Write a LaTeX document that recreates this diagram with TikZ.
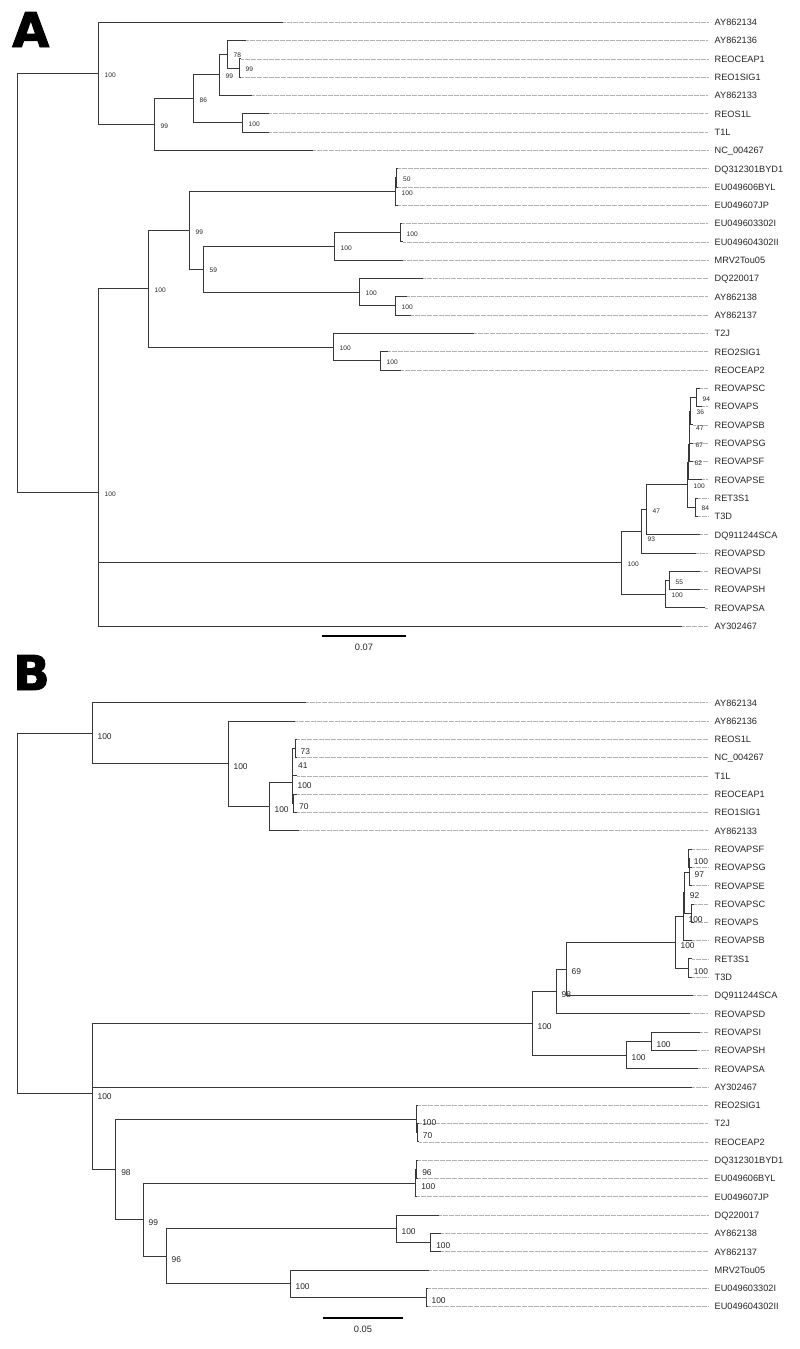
\documentclass[tikz,border=0pt]{standalone}
\usepackage{fontspec}
\usepackage{tikz}
\newfontfamily\labfont{Liberation Sans}
\newfontfamily\panelfont{DejaVu Sans}[BoldFeatures={FakeBold=2}]

\begin{document}
\begin{tikzpicture}[x=1pt,y=-1pt,
	br/.style={draw=black!78, line width=0.95pt},
	lead/.style={draw=black!30, line width=0.8pt, dash pattern=on 0.7pt off 0.5pt},
	lab/.style={anchor=west, inner xsep=6.5pt, inner ysep=0pt, text height=6.6pt, text depth=0pt, font=\labfont\fontsize{9.2}{10}\selectfont, text=black!85},
	bsa/.style={anchor=west, inner sep=0pt, text height=4.7pt, text depth=0pt, xshift=6.5pt, yshift=-1.2pt, font=\labfont\fontsize{6.6}{7}\selectfont, text=black!85},
	bsb/.style={anchor=west, inner sep=0pt, text height=6pt, text depth=0pt, xshift=5.4pt, yshift=-3pt, font=\labfont\fontsize{8.4}{9}\selectfont, text=black!85},
	scl/.style={inner sep=0pt, text height=6.6pt, text depth=0pt, font=\labfont\fontsize{9.3}{10}\selectfont, text=black!85},
	bar/.style={draw=black, line width=2.5pt},
	panel/.style={anchor=base west, inner sep=0pt, font=\panelfont\bfseries\fontsize{48}{48}\selectfont}]
	\useasboundingbox (0,0) rectangle (800,1349);

	% A
	\node[panel] (pA) at (12,47) {A};
	\foreach \txt/\tx [count=\i] in {AY862134/283, AY862136/246, REOCEAP1/241, REO1SIG1/241, AY862133/252, REOS1L/269, T1L/269, NC\_004267/313, DQ312301BYD1/398, EU049606BYL/398, EU049607JP/398, EU049603302I/402, EU049604302II/403, MRV2Tou05/403, DQ220017/423, AY862138/407, AY862137/411, T2J/474, REO2SIG1/388, REOCEAP2/401, REOVAPSC/700, REOVAPS/702, REOVAPSB/693, REOVAPSG/693, REOVAPSF/693, REOVAPSE/702, RET3S1/698, T3D/698, DQ911244SCA/700, REOVAPSD/696, REOVAPSI/700, REOVAPSH/700, REOVAPSA/705, AY302467/682}
	{
		\coordinate (ta\i) at (\tx,{22.3+18.3*(\i-1)});
		\node[lab] (a\i) at (708,{22.3+18.3*(\i-1)}) {\txt};
		\draw[lead] (ta\i) -- (a\i);
	}
	\coordinate (ra) at (17,{22.3+18.3*14.25});
	\foreach \n/\x/\r/\s/\dy in {u1/98/2.797/100/0, u2/154/5.594/99/0, u3/193/4.1875/86/0, u4/219/2.875/99/0, u5/227/1.75/78/0, u6/239/2.5/99/0, u7/242/5.5/100/0, u8/98/25.70/100/0, u9/148/14.5625/100/0, u10/189/11.375/99/0, u11/396.5/8.5/50/0, u12/395/9.25/100/0, u13/203/13.5/59/0, u14/334/12.25/100/0, u15/400/11.5/100/0, u16/359/14.75/100/0, u17/395/15.5/100/0, u18/333/17.75/100/0, u19/380/18.5/100/0, u20/621/29.53/100/0, u21/641/27.82/93/7, u22/646/26.63/47/0, u23/687/25.27/100/0, u24/688/24.03/62/0, u25/689/23.0625/67/0, u26/689.5/22.125/47/0, u27/690/21.25/36/0, u28/696/20.5/94/0, u29/695/26.5/84/0, u30/665/31.25/100/0, u31/669/30.5/55/0}
	{
		\coordinate (\n) at (\x,{22.3+18.3*\r});
		\node[bsa, yshift=-\dy pt] (l\n) at (\n) {\s};
	}
	\foreach \p/\c in {ra/u1, ra/u8, u1/ta1, u1/u2, u2/u3, u2/ta8, u3/u4, u3/u7, u4/u5, u4/ta5, u5/ta2, u5/u6, u6/ta3, u6/ta4, u7/ta6, u7/ta7, u8/u9, u8/u20, u8/ta34, u9/u10, u9/u18, u10/u12, u10/u13, u12/u11, u12/ta11, u11/ta9, u11/ta10, u13/u14, u13/u16, u14/u15, u14/ta14, u15/ta12, u15/ta13, u16/ta15, u16/u17, u17/ta16, u17/ta17, u18/ta18, u18/u19, u19/ta19, u19/ta20, u20/u21, u20/u30, u21/u22, u21/ta30, u22/u23, u22/ta29, u23/u24, u23/u29, u24/u25, u24/ta26, u25/u26, u25/ta25, u26/u27, u26/ta24, u27/u28, u27/ta23, u28/ta21, u28/ta22, u29/ta27, u29/ta28, u30/u31, u30/ta33, u31/ta31, u31/ta32}
		\draw[br] (\p) |- (\c);
	\coordinate (sa1) at (322,636);
	\coordinate (sa2) at (406,636);
	\draw[bar] (sa1) -- (sa2);
	\node[scl] (sa) at (364,647) {0.07};

	% B
	\node[panel] (pB) at (13,690) {B};
	\foreach \txt/\tx [count=\i] in {AY862134/306, AY862136/295, REOS1L/297, NC\_004267/297, T1L/297, REOCEAP1/297, REO1SIG1/297, AY862133/299, REOVAPSF/692, REOVAPSG/692, REOVAPSE/692, REOVAPSC/694, REOVAPS/694, REOVAPSB/692, RET3S1/692, T3D/692, DQ911244SCA/693, REOVAPSD/690, REOVAPSI/700, REOVAPSH/697, REOVAPSA/698, AY302467/692, REO2SIG1/418, T2J/419, REOCEAP2/419, DQ312301BYD1/418, EU049606BYL/418, EU049607JP/417, DQ220017/439, AY862138/441, AY862137/441, MRV2Tou05/429, EU049603302I/428, EU049604302II/428}
	{
		\coordinate (tb\i) at (\tx,{702.7+18.3*(\i-1)});
		\node[lab] (b\i) at (708,{702.7+18.3*(\i-1)}) {\txt};
		\draw[lead] (tb\i) -- (b\i);
	}
	\coordinate (rb) at (17,{702.7+18.3*11.505});
	\foreach \n/\x/\r/\s in {v1/92/1.67/100, v2/228/3.34/100, v3/269/5.6875/100, v4/292/4.375/100, v5/292.5/3.25/41, v6/295/2.5/73, v7/293.5/5.5/70, v8/92/21.34/100, v9/532/17.51/100, v10/556/15.77/98, v11/566/14.55/69, v12/675/13.09/100, v13/683/11.6875/100, v14/684.3/10.375/92, v15/689/9.25/97, v16/688.3/8.5/100, v17/691.7/11.5/{}, v18/688.3/14.5/100, v19/626/19.25/100, v20/651/18.5/100, v21/115.7/25.5/98, v22/416.7/22.75/100, v23/417.3/23.5/70, v24/143/28.25/99, v25/415.7/26.25/100, v26/416.7/25.5/96, v27/166/30.25/96, v28/396/28.75/100, v29/430.7/29.5/100, v30/290/31.75/100, v31/426/32.5/100}
	{
		\coordinate (\n) at (\x,{702.7+18.3*\r});
		\node[bsb] (l\n) at (\n) {\s};
	}
	%\draw[br] (rb) |- (v1) (rb) |- (v8);
	\foreach \p/\c in {rb/v1, rb/v8, v1/tb1, v1/v2, v2/tb2, v2/v3, v3/v4, v3/tb8, v4/v5, v4/v7, v5/v6, v5/tb5, v6/tb3, v6/tb4, v7/tb6, v7/tb7, v8/v9, v8/tb22, v8/v21, v9/v10, v9/v19, v10/v11, v10/tb18, v11/v12, v11/tb17, v12/v13, v12/v18, v13/v14, v13/tb14, v14/v15, v14/v17, v15/v16, v15/tb11, v16/tb9, v16/tb10, v17/tb12, v17/tb13, v18/tb15, v18/tb16, v19/v20, v19/tb21, v20/tb19, v20/tb20, v21/v22, v21/v24, v22/tb23, v22/v23, v23/tb24, v23/tb25, v24/v25, v24/v27, v25/v26, v25/tb28, v26/tb26, v26/tb27, v27/v28, v27/v30, v28/tb29, v28/v29, v29/tb30, v29/tb31, v30/tb32, v30/v31, v31/tb33, v31/tb34}
		\draw[br] (\p) |- (\c);
	\coordinate (sb1) at (323,1318);
	\coordinate (sb2) at (403,1318);
	\draw[bar] (sb1) -- (sb2);
	\node[scl] (sb) at (363,1329) {0.05};
\end{tikzpicture}
\end{document}
